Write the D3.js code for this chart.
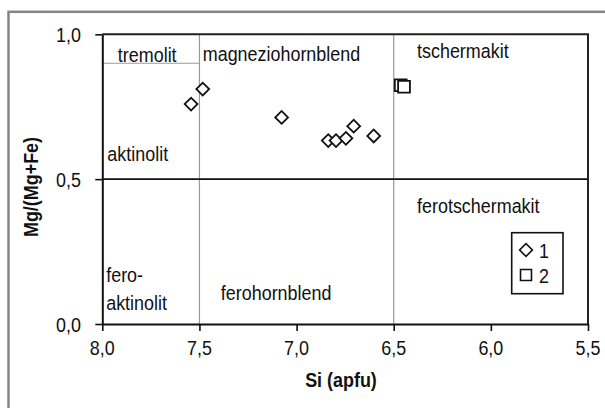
<!DOCTYPE html>
<html>
<head>
<meta charset="utf-8">
<script src="https://cdn.jsdelivr.net/npm/d3@7"></script>
<style>
  body { margin: 0; background: #fff; }
  text { font-family: "Liberation Sans", Arial, sans-serif; fill: #111; }
</style>
</head>
<body>
<script>
// amphibole classification diagram, Si vs Mg/(Mg+Fe)

// series 1 (diamonds)
var si1 = [7.543, 7.483, 7.077, 6.837, 6.797, 6.746, 6.706, 6.603];
var mg1 = [0.759, 0.811, 0.713, 0.633, 0.633, 0.641, 0.683, 0.649];
// series 2 (squares)
var si2 = [6.464, 6.447];
var mg2 = [0.824, 0.819];

var xTicks = [8.0, 7.5, 7.0, 6.5, 6.0, 5.5];
var yTicks = [0.0, 0.5, 1.0];

// field names with their anchor in data units
var fieldNames = ["tremolit", "magneziohornblend", "tschermakit", "aktinolit",
                  "ferotschermakit", "fero-", "aktinolit", "ferohornblend"];
var fieldSi = [7.92, 7.483, 6.38, 7.974, 6.38, 7.98, 7.98, 7.39];
var fieldMg = [0.905, 0.908, 0.917, 0.564, 0.382, 0.146, 0.048, 0.083];

var legendNames = ["1", "2"];

var w = 605;
var h = 408;
// plot area edges (top is taken by window.top, so prefix them)
var plotLeft = 102.3, plotRight = 588, plotTop = 34.3, plotBottom = 324;

var svg = d3.select("body")
            .append("svg")
            .attr("width", w)
            .attr("height", h);

// outer gray frame (runs off the right and bottom edge)
svg.append("rect")
   .attr("x", 8.5)
   .attr("y", 11.8)
   .attr("width", 640)
   .attr("height", 440)
   .attr("fill", "none")
   .attr("stroke", "#858585")
   .attr("stroke-width", 2.5);

var xScale = d3.scaleLinear()
               .domain([8.0, 5.5])
               .range([plotLeft, plotRight]);

var yScale = d3.scaleLinear()
               .domain([0, 1])
               .range([plotBottom, plotTop]);

// text helper, font is a bit narrow in the original
function label(x, y, txt, anchor, bold) {
  return svg.append("text")
      .attr("transform", "translate(" + x + "," + y + ") scale(0.92,1)")
      .attr("text-anchor", anchor || "start")
      .style("font-size", "19.5px")
      .style("font-weight", bold ? "bold" : "normal")
      .text(txt);
}

// field boundaries
function vline(v) {
  svg.append("line")
     .attr("x1", xScale(v)).attr("x2", xScale(v))
     .attr("y1", yScale(0)).attr("y2", yScale(1))
     .attr("stroke", "#9a9a9a")
     .attr("stroke-width", 1.2);
}
vline(7.5);
vline(6.5);

svg.append("line")
   .attr("x1", xScale(8.0)).attr("x2", xScale(7.5))
   .attr("y1", yScale(0.9)).attr("y2", yScale(0.9))
   .attr("stroke", "#9a9a9a")
   .attr("stroke-width", 1.2);

svg.append("line")
   .attr("x1", xScale(8.0)).attr("x2", xScale(5.5))
   .attr("y1", yScale(0.5)).attr("y2", yScale(0.5))
   .attr("stroke", "#111")
   .attr("stroke-width", 1.6);

// top and right border
svg.append("path")
   .attr("d", "M" + xScale(8.0) + "," + yScale(1) + "H" + xScale(5.5) + "V" + yScale(0))
   .attr("fill", "none")
   .attr("stroke", "#222")
   .attr("stroke-width", 2);

// axes
var xAxis = svg.append("g")
   .attr("transform", "translate(0," + plotBottom + ")")
   .call(d3.axisBottom(xScale).tickValues(xTicks).tickSize(7).tickSizeOuter(0).tickFormat(""));

var yAxis = svg.append("g")
   .attr("transform", "translate(" + plotLeft + ",0)")
   .call(d3.axisLeft(yScale).tickValues(yTicks).tickSize(7).tickSizeOuter(0).tickFormat(""));

svg.selectAll(".domain").attr("stroke", "#111").attr("stroke-width", 2);
svg.selectAll(".tick line").attr("stroke", "#111").attr("stroke-width", 1.6);

var comma = function(v) { return d3.format(".1f")(v).replace(".", ","); };

xTicks.forEach(function(t) {
  label(xScale(t), 355, comma(t), "middle");
});
yTicks.forEach(function(t) {
  label(81, yScale(t) + 7.5, comma(t), "end");
});

// axis titles
label(341, 387, "Si (apfu)", "middle", true);
svg.append("text")
   .attr("transform", "translate(38,187) rotate(-90) scale(0.92,1)")
   .attr("text-anchor", "middle")
   .style("font-size", "19.5px")
   .style("font-weight", "bold")
   .text("Mg/(Mg+Fe)");

// field names
fieldNames.forEach(function(n, i) {
  label(xScale(fieldSi[i]), yScale(fieldMg[i]), n, "start");
});

// markers
var diamond = d3.symbol().type(d3.symbolSquare).size(82);
var square = d3.symbol().type(d3.symbolSquare).size(140);

svg.selectAll(".s1")
   .data(si1)
   .enter()
   .append("path")
   .attr("class", "s1")
   .attr("d", diamond)
   .attr("transform", function(d, i) {
     return "translate(" + xScale(d) + "," + yScale(mg1[i]) + ") rotate(45)";
   })
   .attr("fill", "#fff")
   .attr("stroke", "#111")
   .attr("stroke-width", 1.8);

svg.selectAll(".s2")
   .data(si2)
   .enter()
   .append("path")
   .attr("class", "s2")
   .attr("d", square)
   .attr("transform", function(d, i) {
     return "translate(" + xScale(d) + "," + yScale(mg2[i]) + ")";
   })
   .attr("fill", "#fff")
   .attr("stroke", "#111")
   .attr("stroke-width", 1.8);

// legend
svg.append("rect")
   .attr("x", 511.7)
   .attr("y", 232.7)
   .attr("width", 51.3)
   .attr("height", 61)
   .attr("fill", "#fff")
   .attr("stroke", "#111")
   .attr("stroke-width", 1.6);

var legend = svg.selectAll(".legend")
   .data(legendNames)
   .enter()
   .append("g")
   .attr("class", "legend")
   .attr("transform", function(d, i) {
     return "translate(526," + (250 + i * 25) + ")";
   });

legend.append("path")
   .attr("d", function(d, i) { return i == 0 ? diamond() : d3.symbol().type(d3.symbolSquare).size(120)(); })
   .attr("transform", function(d, i) { return i == 0 ? "rotate(45)" : ""; })
   .attr("fill", "#fff")
   .attr("stroke", "#111")
   .attr("stroke-width", 1.6);

legend.append("text")
   .attr("transform", "translate(13,7.5) scale(0.92,1)")
   .style("font-size", "19.5px")
   .text(function(d) { return d; });
</script>
</body>
</html>
